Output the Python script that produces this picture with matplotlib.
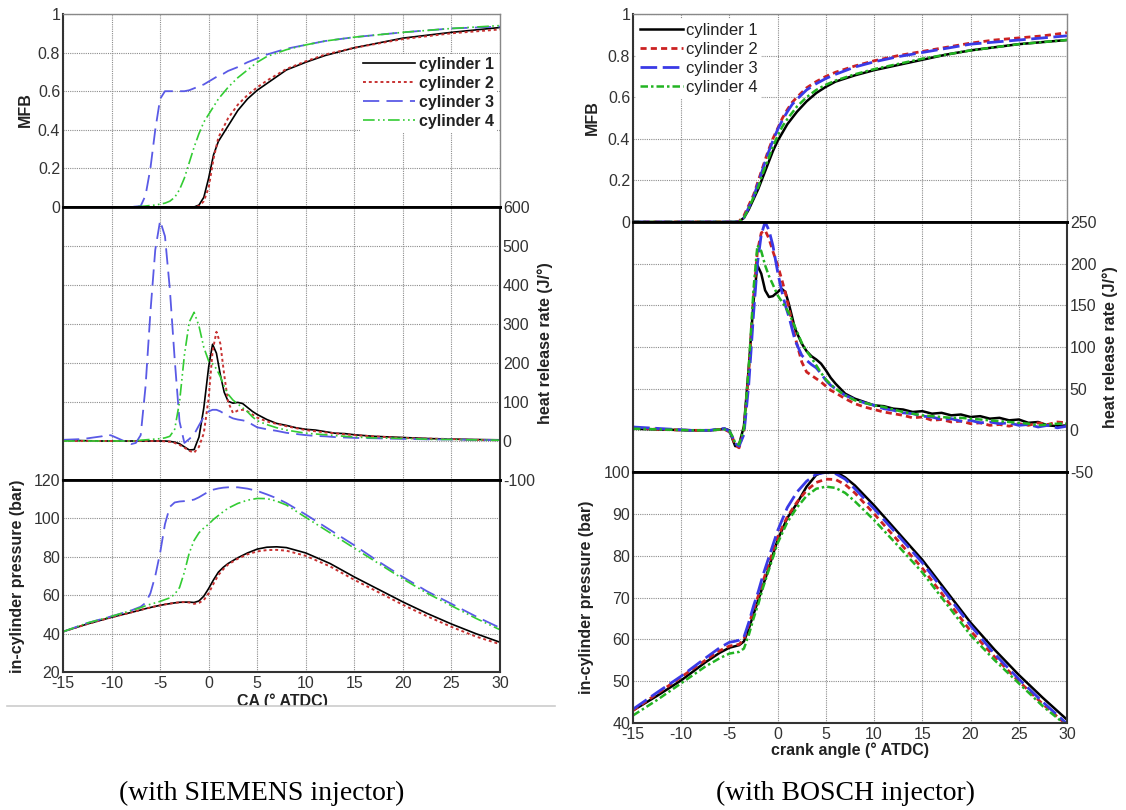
import matplotlib
matplotlib.use("Agg")
import matplotlib.pyplot as plt
from matplotlib.lines import Line2D
from matplotlib.patches import Rectangle

plt.rcParams['font.family'] = ['Liberation Sans', 'DejaVu Sans']
plt.rcParams['axes.unicode_minus'] = False

# ---------------- SIEMENS injector (left) ----------------
s_mfb_x = [-15, -10, -8, -7, -6.5, -6, -5.5, -5, -4.5, -4, -3.5, -3, -2.5, -2, -1.5, -1, -0.5,
           0, 0.5, 1, 1.5, 2, 3, 4, 5, 6, 8, 10, 12, 15, 20, 25, 30]
s_mfb1 = [0, 0, 0, 0, 0, 0, 0, 0, 0, 0, 0, 0, 0, 0, 0, 0.01, 0.05,
          0.15, 0.27, 0.34, 0.38, 0.42, 0.5, 0.56, 0.605, 0.64, 0.71, 0.75, 0.785, 0.825, 0.875, 0.905, 0.93]
s_mfb2 = [0, 0, 0, 0, 0, 0, 0, 0, 0, 0, 0, 0, 0, 0, 0, 0.005, 0.03,
          0.1, 0.25, 0.36, 0.41, 0.46, 0.53, 0.58, 0.62, 0.655, 0.715, 0.755, 0.79, 0.825, 0.87, 0.9, 0.92]
s_mfb3 = [0, 0, 0, 0.005, 0.06, 0.2, 0.4, 0.56, 0.6, 0.6, 0.6, 0.6, 0.6, 0.605, 0.615, 0.625, 0.635,
          0.65, 0.665, 0.68, 0.69, 0.705, 0.725, 0.75, 0.77, 0.79, 0.82, 0.84, 0.86, 0.88, 0.905, 0.925, 0.935]
s_mfb4 = [0, 0, 0, 0.003, 0.005, 0.008, 0.01, 0.015, 0.02, 0.03, 0.05, 0.09, 0.15, 0.23, 0.31, 0.38, 0.44,
          0.48, 0.52, 0.56, 0.59, 0.62, 0.67, 0.71, 0.75, 0.78, 0.815, 0.84, 0.86, 0.88, 0.905, 0.925, 0.94]

s_hrr_x = [-15, -13, -11, -10.5, -10, -9, -8, -7.5, -7, -6.5, -6, -5.5, -5, -4.5, -4, -3.5, -3, -2.5, -2,
           -1.5, -1, -0.5, 0, 0.4, 0.8, 1.2, 1.6, 2, 2.5, 3, 3.5, 4, 4.5, 5, 6, 7, 8, 9, 10, 11, 12, 13,
           14, 15, 17, 19, 21, 23, 25, 27, 30]
s_hrr1 = [2, 1, 0, 0, 0, 0, 0, 0, 0, 0, 0, 0, 0, 0, -1, -3, -7, -15, -23,
          -22, 10, 85, 190, 248, 225, 170, 125, 102, 97, 99, 96, 86, 76, 68, 55, 45, 40, 34, 30, 28, 24, 20,
          19, 16, 12, 10, 8, 6, 5, 4, 3]
s_hrr2 = [0, 0, 0, 0, 0, 0, 0, 0, 0, 0, 0, 0, 0, -1, -2, -5, -10, -17, -25,
          -30, -15, 20, 110, 230, 280, 250, 170, 100, 72, 78, 80, 76, 68, 60, 50, 44, 38, 33, 28, 25, 22, 20,
          17, 15, 12, 9, 7, 6, 5, 3, 2]
s_hrr3 = [3, 5, 12, 17, 14, 3, -8, -5, 15, 140, 330, 490, 565, 525, 390, 210, 50, -5, 5,
          17, 40, 62, 76, 80, 80, 76, 70, 64, 58, 55, 53, 50, 42, 35, 30, 26, 21, 18, 15, 13, 12, 10,
          9, 8, 7, 6, 5, 4, 4, 3, 2]
s_hrr4 = [0, 0, 0, 0, 0, 0, 0, 0, 2, 3, 4, 5, 6, 8, 12, 30, 100, 220, 305,
          330, 295, 240, 205, 198, 185, 165, 140, 120, 105, 95, 85, 75, 62, 52, 42, 34, 28, 24, 20, 18, 16, 14,
          12, 10, 8, 7, 6, 4, 4, 3, 2]

s_p_x = [-15, -12.5, -10, -8, -7, -6.5, -6, -5.5, -5, -4.5, -4, -3.5, -3, -2.5, -2, -1.5, -1, -0.5,
         0, 0.5, 1, 1.5, 2, 3, 4, 5, 6, 7, 8, 10, 12.5, 15, 17.5, 20, 22.5, 25, 27.5, 30]
s_p1 = [41, 45, 48.5, 51, 52.3, 53, 53.6, 54.2, 54.7, 55.2, 55.6, 56, 56.3, 56.4, 56.4, 56.2, 57, 59.5,
        63.5, 68, 72, 74.5, 76.5, 79.5, 82, 84, 85, 85.2, 84.8, 82, 76.5, 69.5, 63, 56.5, 50.5, 45, 40, 35.5]
s_p2 = [41, 45, 48.5, 51, 52.3, 53, 53.6, 54.2, 54.7, 55.2, 55.6, 56, 56.3, 56.4, 56.2, 55.5, 56, 57.5,
        61, 66, 70.5, 73.5, 76, 79, 81.3, 82.8, 83.5, 83.6, 83.2, 80.5, 75, 68, 61.5, 55, 49, 43.5, 38.5, 34.5]
s_p3 = [41, 45.5, 49, 52, 54, 56, 61, 70, 82, 97, 106, 108.3, 108.8, 109, 109.3, 109.8, 111, 112.5,
        114, 115, 115.6, 116, 116.2, 116.2, 115.5, 114.3, 112.5, 110.5, 108, 102, 94, 86, 77.5, 69.5, 62, 55.5, 49, 43]
s_p4 = [41, 45.5, 49, 52, 53.5, 54.5, 55.3, 56, 56.8, 57.7, 58.6, 60.5, 64, 72, 82, 88.5, 92.5, 95,
        97, 99.5, 101.5, 103.5, 105.3, 107.8, 109.5, 110.4, 110.3, 109, 107, 100.5, 92.5, 84.5, 76.5, 68.5, 61, 54.5, 48, 42]

# ---------------- BOSCH injector (right) ----------------
b_mfb_x = [-15, -10, -6, -5, -4.5, -4, -3.5, -3, -2.5, -2, -1.5, -1, -0.5, 0, 0.5, 1, 1.5, 2, 3, 4, 5, 6,
           8, 10, 12.5, 15, 17.5, 20, 22.5, 25, 27.5, 30]
b_mfb1 = [0, 0, 0, 0, 0, 0.002, 0.02, 0.06, 0.11, 0.16, 0.22, 0.28, 0.34, 0.39, 0.43, 0.47, 0.5, 0.53, 0.58,
          0.62, 0.65, 0.675, 0.705, 0.73, 0.755, 0.78, 0.805, 0.825, 0.84, 0.855, 0.865, 0.875]
b_mfb2 = [0, 0, 0, 0, 0, 0.003, 0.03, 0.08, 0.13, 0.2, 0.27, 0.34, 0.4, 0.45, 0.5, 0.54, 0.575, 0.6, 0.645,
          0.675, 0.7, 0.72, 0.75, 0.775, 0.8, 0.82, 0.84, 0.86, 0.875, 0.885, 0.895, 0.91]
b_mfb3 = [0, 0, 0, 0, 0, 0.002, 0.02, 0.07, 0.12, 0.19, 0.26, 0.33, 0.39, 0.445, 0.49, 0.53, 0.565, 0.59, 0.635,
          0.665, 0.69, 0.71, 0.745, 0.77, 0.795, 0.815, 0.835, 0.855, 0.865, 0.875, 0.885, 0.895]
b_mfb4 = [0, 0, 0, 0, 0, 0.002, 0.02, 0.065, 0.12, 0.17, 0.24, 0.3, 0.36, 0.415, 0.46, 0.495, 0.525, 0.555, 0.6,
          0.635, 0.66, 0.68, 0.71, 0.735, 0.76, 0.785, 0.805, 0.825, 0.84, 0.855, 0.865, 0.875]

b_hrr_x = [-15, -12, -9, -7, -6, -5.5, -5, -4.7, -4.4, -4, -3.5, -3, -2.5, -2.1, -1.7, -1.3, -0.9, -0.5,
           0, 0.4, 0.8, 1.2, 1.8, 2.5, 3, 3.5, 4, 4.5, 5, 5.5, 6, 7, 8, 9, 10, 11, 12, 13, 14, 15, 16, 17,
           18, 19, 20, 21, 22, 23, 24, 25, 26, 27, 28, 29, 30]
b_hrr1 = [2, 1, 0, 0, 1, 2, 0, -10, -19, -17, 5, 75, 155, 198, 188, 168, 160, 161,
          166, 170, 166, 150, 122, 104, 95, 89, 85, 80, 72, 63, 56, 44, 38, 34, 30, 29, 26, 25, 22, 23, 20, 21,
          18, 19, 16, 17, 14, 15, 12, 13, 9, 10, 6, 5, 6]
b_hrr2 = [3, 1, 0, 0, 1, 1, -2, -8, -18, -21, 0, 70, 160, 215, 237, 240, 230, 215,
          198, 182, 165, 145, 112, 82, 70, 66, 62, 58, 53, 48, 45, 38, 32, 28, 25, 22, 20, 18, 15, 16, 12, 13,
          10, 11, 8, 9, 6, 7, 5, 8, 6, 9, 7, 10, 9]
b_hrr3 = [4, 2, 0, 0, 2, 2, -1, -8, -16, -19, -5, 55, 140, 200, 235, 250, 240, 222,
          190, 168, 150, 135, 108, 90, 84, 79, 75, 68, 60, 54, 50, 42, 37, 33, 30, 26, 24, 21, 20, 17, 16, 13,
          14, 11, 12, 9, 10, 8, 9, 6, 7, 4, 6, 3, 5]
b_hrr4 = [2, 1, 0, 0, 1, 1, -1, -7, -15, -17, 2, 75, 170, 222, 215, 198, 185, 175,
          162, 155, 148, 140, 124, 105, 95, 87, 78, 69, 61, 55, 50, 42, 36, 33, 30, 28, 25, 22, 20, 18, 17, 16,
          15, 15, 14, 13, 12, 11, 10, 9, 8, 6, 7, 8, 8]

b_p_x = [-15, -12.5, -10, -7.5, -6, -5, -4.5, -4, -3.5, -3, -2.5, -2, -1.5, -1, -0.5, 0, 1, 2, 3, 4, 5, 6,
         7, 8, 10, 12.5, 15, 17.5, 20, 22.5, 25, 27.5, 30]
b_p1 = [43, 46.5, 50.2, 54.5, 56.8, 58, 58.3, 58.6, 59.5, 62.5, 66, 69.5, 73, 76.5, 80.2, 83.8, 89, 92.5,
        96.5, 99.3, 100.2, 100.1, 98.7, 96.8, 92, 85.5, 79, 71.5, 64, 57.5, 51.5, 46, 40.8]
b_p2 = [43, 47, 51, 55, 57.3, 58.4, 58.6, 58.8, 60, 63.5, 67, 70.5, 74, 77.5, 81, 84.5, 89.3, 92.8,
        95.6, 97.5, 98.3, 98.2, 97, 95, 90, 83.5, 77, 69.5, 62, 55.8, 50, 44.5, 39.5]
b_p3 = [43.3, 47.3, 51.2, 55.5, 58, 59.3, 59.5, 59.8, 60.5, 64, 68, 71.5, 75.5, 79, 82.5, 86, 91.5, 95.2,
        97.8, 99.5, 99.9, 99.6, 98.3, 96, 91.2, 84.8, 78.3, 70.8, 63.3, 56.5, 50.5, 45, 39.8]
b_p4 = [41.8, 45.5, 49.5, 53.5, 55.5, 56.6, 56.8, 57, 57.8, 61, 65, 68.5, 72.5, 76, 79.5, 83, 88, 91.5,
        94.3, 96, 96.5, 96.2, 95, 93, 88.5, 82.3, 76, 68.5, 61, 55, 49.5, 44, 39.3]

labels = ['cylinder 1', 'cylinder 2', 'cylinder 3', 'cylinder 4']

s_styles = [dict(color='black', ls='-', lw=1.2),
            dict(color='#c83232', ls=(0, (1.5, 1.5)), lw=1.4),
            dict(color='#5a5ae6', ls=(0, (9, 4)), lw=1.3),
            dict(color='#33cc33', ls=(0, (7, 2, 1, 2, 1, 2)), lw=1.2)]
b_styles = [dict(color='black', ls='-', lw=1.8),
            dict(color='#cc2222', ls=(0, (2.2, 1.5)), lw=2.0),
            dict(color='#3a3ae6', ls=(0, (6, 2)), lw=2.0),
            dict(color='#22b422', ls=(0, (3, 1.2, 1, 1.2)), lw=1.8)]

W, H = 1126, 810
fig = plt.figure(figsize=(W / 100, H / 100), dpi=100)


def px_axes(x0, x1, y0, y1):
    return fig.add_axes([x0 / W, 1 - y1 / H, (x1 - x0) / W, (y1 - y0) / H])


def style(ax, bottom=False):
    ax.set_xlim(-15, 30)
    ax.set_xticks(range(-15, 31, 5))
    ax.grid(True, color='#8c8c8c', linestyle=(0, (1, 1)), linewidth=0.8)
    ax.tick_params(length=0, labelsize=11.5, labelcolor='#333333', pad=2)
    if not bottom:
        ax.tick_params(axis='x', labelbottom=False)
    for s in ax.spines.values():
        s.set_color('#333333')
        s.set_linewidth(1.5)


def panel(x0, x1, ys, mfb, hrr, pres, hrr_lim, hrr_step, p_lim, p_step, st, leg_kw, leg_bold):
    a1 = px_axes(x0, x1, ys[0], ys[1])
    a2 = px_axes(x0, x1, ys[1], ys[2])
    a3 = px_axes(x0, x1, ys[2], ys[3])
    for a in (a1, a2, a3):
        style(a, a is a3)
    # MFB
    for y, s, lab in zip(mfb[1:], st, labels):
        a1.plot(mfb[0], y, label=lab, **s)
    a1.set_ylim(0, 1)
    a1.set_yticks([0, 0.2, 0.4, 0.6, 0.8, 1])
    a1.set_yticklabels(['0', '0.2', '0.4', '0.6', '0.8', '1'])
    a1.spines['bottom'].set_color('black')
    a1.spines['bottom'].set_linewidth(2)
    a1.spines['top'].set_color('#888888')
    a1.spines['top'].set_linewidth(1.0)
    a1.spines['right'].set_color('#888888')
    a1.spines['right'].set_linewidth(1.0)
    leg = a1.legend(prop=dict(size=11.5 if leg_bold else 12, weight='bold' if leg_bold else 'normal'),
                    facecolor='white', edgecolor='none', framealpha=1, fancybox=False,
                    borderpad=0.2, labelspacing=0.25, handletextpad=0.2, borderaxespad=0.2,
                    **leg_kw)
    for t in leg.get_texts():
        t.set_color('#222222')
    # heat release rate
    for y, s in zip(hrr[1:], st):
        a2.plot(hrr[0], y, **s)
    a2.set_ylim(*hrr_lim)
    a2.set_yticks(range(hrr_lim[0], hrr_lim[1] + 1, hrr_step))
    a2.tick_params(axis='y', labelleft=False, labelright=True)
    for k in ('top', 'bottom'):
        a2.spines[k].set_color('black')
        a2.spines[k].set_linewidth(2)
    # pressure
    for y, s in zip(pres[1:], st):
        a3.plot(pres[0], y, **s)
    a3.set_ylim(*p_lim)
    a3.set_yticks(range(p_lim[0], p_lim[1] + 1, p_step))
    a3.tick_params(axis='x', pad=3)
    a3.spines['top'].set_color('black')
    a3.spines['top'].set_linewidth(2)
    return a1, a2, a3


panel(63, 500, (14, 207, 480, 672),
      (s_mfb_x, s_mfb1, s_mfb2, s_mfb3, s_mfb4),
      (s_hrr_x, s_hrr1, s_hrr2, s_hrr3, s_hrr4),
      (s_p_x, s_p1, s_p2, s_p3, s_p4),
      (-100, 600), 100, (20, 120), 20, s_styles,
      dict(loc='upper right', bbox_to_anchor=(1.0, 0.81), handlelength=3.3), True)

panel(633, 1067, (14, 222, 472, 723),
      (b_mfb_x, b_mfb1, b_mfb2, b_mfb3, b_mfb4),
      (b_hrr_x, b_hrr1, b_hrr2, b_hrr3, b_hrr4),
      (b_p_x, b_p1, b_p2, b_p3, b_p4),
      (-50, 250), 50, (40, 100), 10, b_styles,
      dict(loc='upper left', bbox_to_anchor=(0.0, 0.99), handlelength=2.6), False)

lab = dict(fontsize=11.5, fontweight='bold', color='#222222', rotation=90, ha='center', va='center')
fig.text(25 / W, 1 - 110 / H, 'MFB', **lab)
fig.text(18 / W, 1 - 576 / H, 'in-cylinder pressure (bar)', **lab)
fig.text(545 / W, 1 - 343 / H, 'heat release rate (J/°)', **lab)
fig.text(592 / W, 1 - 118 / H, 'MFB', **lab)
fig.text(587 / W, 1 - 597 / H, 'in-cylinder pressure (bar)', **lab)
fig.text(1110 / W, 1 - 347 / H, 'heat release rate (J/°)', **lab)

fig.text(282 / W, 1 - 701 / H, 'CA (° ATDC)', fontsize=11.5, fontweight='bold', color='#222222',
         ha='center', va='center')
fig.text(850 / W, 1 - 750 / H, 'crank angle (° ATDC)', fontsize=11.5, fontweight='bold', color='#222222',
         ha='center', va='center')

# edge of the left screenshot
fig.add_artist(Rectangle((0, 1 - 740 / H), 570 / W, 34 / H, transform=fig.transFigure,
                         facecolor='white', edgecolor='none', zorder=5))
fig.add_artist(Line2D([7 / W, 555 / W], [1 - 706 / H, 1 - 706 / H], color='#cccccc', lw=1.2, zorder=6))

cap = dict(fontsize=20, family=['Liberation Serif', 'DejaVu Serif'], color='black', ha='center', va='center')
fig.text(262 / W, 1 - 793 / H, '(with SIEMENS injector)', **cap)
fig.text(845 / W, 1 - 793 / H, '(with BOSCH injector)', **cap)

fig.savefig('out.png', dpi=100)
